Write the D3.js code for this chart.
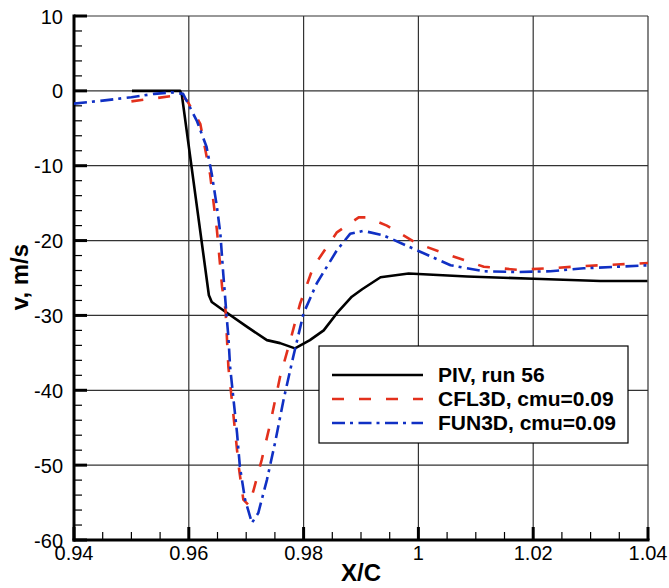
<!DOCTYPE html>
<html>
<head>
<meta charset="utf-8">
<script src="https://cdn.jsdelivr.net/npm/d3@7"></script>
<style>
  body { margin: 0; background: #fff; }
  svg { font-family: "Liberation Sans", Arial, sans-serif; }
</style>
</head>
<body>
<div id="chart"></div>
<script>
// PIV measurement, run 56
var pivX = [0.9501, 0.9585, 0.9588, 0.9635, 0.9640, 0.9660, 0.9701, 0.9736, 0.9759, 0.9785,
            0.9811, 0.9835, 0.9858, 0.9884, 0.9902, 0.9934, 0.9983, 1.0085, 1.0201, 1.0317, 1.0399];
var pivV = [0, 0, -0.6, -27.3, -28.2, -29.3, -31.5, -33.3, -33.7, -34.4,
            -33.3, -32.0, -29.7, -27.5, -26.5, -24.9, -24.4, -24.8, -25.1, -25.4, -25.4];

// CFL3D, cmu=0.09
var cflX = [0.9500, 0.9540, 0.9570, 0.9585, 0.9597, 0.9620, 0.9637, 0.9649, 0.9658, 0.9664,
            0.9669, 0.9675, 0.9681, 0.9687, 0.9695, 0.9705, 0.9713, 0.9727, 0.9742, 0.9759,
            0.9777, 0.9794, 0.9817, 0.9858, 0.9896, 0.9911, 0.9945, 0.9998, 1.0056, 1.0114,
            1.0172, 1.0230, 1.0288, 1.0346, 1.0400];
var cflV = [-1.4, -1.0, -0.7, -0.4, -1.3, -4.4, -11.1, -18.6, -26.2, -29.3,
            -36.9, -41.3, -45.7, -50.2, -54.6, -55.4, -53.3, -49.3, -44.4, -38.2,
            -33.3, -28.4, -23.5, -18.9, -16.9, -16.9, -18.0, -20.4, -22.0, -23.5,
            -23.9, -23.7, -23.4, -23.2, -23.0];

// FUN3D, cmu=0.09
var funX = [0.9400, 0.9450, 0.9500, 0.9540, 0.9570, 0.9590, 0.9614, 0.9631, 0.9640, 0.9649,
            0.9655, 0.9660, 0.9666, 0.9669, 0.9672, 0.9678, 0.9684, 0.9689, 0.9698, 0.9710,
            0.9721, 0.9736, 0.9750, 0.9765, 0.9782, 0.9800, 0.9823, 0.9858, 0.9881, 0.9904,
            0.9939, 0.9986, 1.0056, 1.0114, 1.0172, 1.0230, 1.0288, 1.0346, 1.0400];
var funV = [-1.7, -1.3, -0.85, -0.4, -0.2, -0.4, -4.0, -7.5, -11.1, -15.5,
            -19.1, -24.4, -30.2, -32.9, -36.9, -41.3, -45.7, -50.2, -54.6, -57.7,
            -56.4, -52.0, -47.1, -41.3, -35.5, -29.7, -25.7, -21.3, -19.1, -18.7,
            -19.3, -20.9, -23.3, -24.1, -24.2, -24.1, -23.7, -23.5, -23.3];

var xTicks = [0.94, 0.96, 0.98, 1, 1.02, 1.04];
var yTicks = [10, 0, -10, -20, -30, -40, -50, -60];
var legendLabels = ["PIV, run 56", "CFL3D, cmu=0.09", "FUN3D, cmu=0.09"];

var series = [
    { name: legendLabels[0], xs: pivX, vs: pivV, color: "#000000", dash: null },
    { name: legendLabels[1], xs: cflX, vs: cflV, color: "#e3301c", dash: "12,15" },
    { name: legendLabels[2], xs: funX, vs: funV, color: "#1030c4", dash: "13,5,3,5.5" }
];

var W = 669, H = 588;
var margin = { left: 74, right: 21, top: 16, bottom: 48 };
var width = W - margin.left - margin.right,
    height = H - margin.top - margin.bottom;

var svg = d3.select("#chart").append("svg")
    .attr("width", W)
    .attr("height", H);

var g = svg.append("g")
    .attr("transform", "translate(" + margin.left + "," + margin.top + ")");

var x = d3.scaleLinear().domain([0.94, 1.04]).range([0, width]);
var y = d3.scaleLinear().domain([-60, 10]).range([height, 0]);

// grid lines
g.selectAll(".vgrid").data(xTicks.slice(1)).enter().append("line")
    .attr("x1", function(d){ return x(d); })
    .attr("x2", function(d){ return x(d); })
    .attr("y1", 0).attr("y2", height)
    .attr("stroke", "#333").attr("stroke-width", 1.2);

g.selectAll(".hgrid").data(yTicks.slice(0, -1)).enter().append("line")
    .attr("x1", 0).attr("x2", width)
    .attr("y1", function(d){ return y(d); })
    .attr("y2", function(d){ return y(d); })
    .attr("stroke", "#333").attr("stroke-width", 1.2);

// minor ticks
var xMinor = d3.range(0.945, 1.04, 0.005).filter(function(d){
    return Math.abs(d * 50 - Math.round(d * 50)) > 1e-6;
});
var yMinor = d3.range(-58, 10, 2).filter(function(d){ return d % 10 != 0; });

g.selectAll(".xminor").data(xMinor).enter().append("line")
    .attr("x1", function(d){ return x(d); })
    .attr("x2", function(d){ return x(d); })
    .attr("y1", height).attr("y2", height - 8)
    .attr("stroke", "#000").attr("stroke-width", 1.2);

g.selectAll(".yminor").data(yMinor).enter().append("line")
    .attr("x1", 0).attr("x2", 8)
    .attr("y1", function(d){ return y(d); })
    .attr("y2", function(d){ return y(d); })
    .attr("stroke", "#000").attr("stroke-width", 1.2);

// major ticks
g.selectAll(".xmajor").data(xTicks).enter().append("line")
    .attr("x1", function(d){ return x(d); })
    .attr("x2", function(d){ return x(d); })
    .attr("y1", height).attr("y2", height - 13)
    .attr("stroke", "#000").attr("stroke-width", 3);

g.selectAll(".ymajor").data(yTicks).enter().append("line")
    .attr("x1", 0).attr("x2", 13)
    .attr("y1", function(d){ return y(d); })
    .attr("y2", function(d){ return y(d); })
    .attr("stroke", "#000").attr("stroke-width", 3);

// axis lines
g.append("line").attr("x1", 0).attr("x2", 0).attr("y1", -1.5).attr("y2", height + 1.5)
    .attr("stroke", "#000").attr("stroke-width", 3);
g.append("line").attr("x1", -1.5).attr("x2", width + 1.5).attr("y1", height).attr("y2", height)
    .attr("stroke", "#000").attr("stroke-width", 3);

// tick labels
g.selectAll(".xlab").data(xTicks).enter().append("text")
    .attr("x", function(d){ return x(d); })
    .attr("y", height + 20)
    .attr("text-anchor", "middle")
    .attr("font-size", "20px")
    .text(function(d){ return d3.format("")(d); });

g.selectAll(".ylab").data(yTicks).enter().append("text")
    .attr("x", -11)
    .attr("y", function(d){ return y(d) + 7.5; })
    .attr("text-anchor", "end")
    .attr("font-size", "20px")
    .text(function(d){ return d; });

// axis titles
g.append("text")
    .attr("x", width / 2)
    .attr("y", height + 41)
    .attr("text-anchor", "middle")
    .attr("font-size", "24px")
    .attr("font-weight", "bold")
    .text("X/C");

g.append("text")
    .attr("transform", "translate(" + (-46) + "," + 261 + ") rotate(-90)")
    .attr("text-anchor", "middle")
    .attr("font-size", "24px")
    .attr("font-weight", "bold")
    .text("v, m/s");

// data lines
var line = d3.line()
    .x(function(d){ return x(d[0]); })
    .y(function(d){ return y(d[1]); });

g.append("clipPath").attr("id", "clip").append("rect")
    .attr("width", width).attr("height", height);

series.forEach(function(s){
    var pts = s.xs.map(function(v, i){ return [v, s.vs[i]]; });
    g.append("path")
        .datum(pts)
        .attr("clip-path", "url(#clip)")
        .attr("fill", "none")
        .attr("stroke", s.color)
        .attr("stroke-width", 2.6)
        .attr("stroke-linejoin", "round")
        .attr("stroke-dasharray", s.dash)
        .attr("d", line);
});

// legend
var legend = g.append("g")
    .attr("transform", "translate(" + (319 - margin.left) + "," + (346 - margin.top) + ")");

legend.append("rect")
    .attr("width", 309).attr("height", 97)
    .attr("fill", "#fff")
    .attr("stroke", "#000").attr("stroke-width", 1.2);

series.forEach(function(s, i){
    var row = legend.append("g")
        .attr("transform", "translate(0," + (29 + i * 24) + ")");
    row.append("line")
        .attr("x1", 13).attr("x2", 104)
        .attr("y1", 0).attr("y2", 0)
        .attr("stroke", s.color)
        .attr("stroke-width", 2.6)
        .attr("stroke-dasharray", s.dash);
    row.append("text")
        .attr("x", 119)
        .attr("y", 7)
        .attr("font-size", "21px")
        .attr("font-weight", "bold")
        .text(s.name);
});
</script>
</body>
</html>
